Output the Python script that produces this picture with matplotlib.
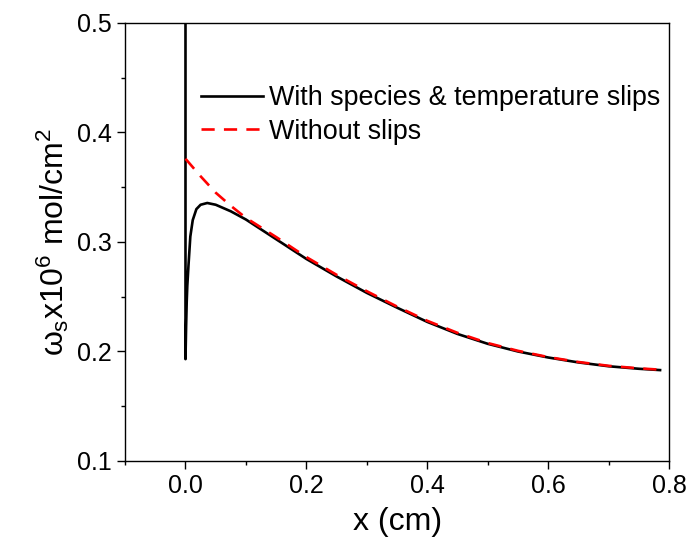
import matplotlib
matplotlib.use('Agg')
import matplotlib.pyplot as plt
from matplotlib.ticker import MultipleLocator

# data
x_slip = [0.0, 0.0, 0.001, 0.002, 0.003, 0.005, 0.008, 0.012, 0.018, 0.025, 0.036,
          0.05, 0.075, 0.1, 0.15, 0.2, 0.25, 0.3, 0.35, 0.4, 0.45, 0.5,
          0.55, 0.6, 0.65, 0.7, 0.75, 0.785]
y_slip = [0.56, 0.193, 0.222, 0.245, 0.260, 0.279, 0.305, 0.320, 0.330, 0.334, 0.3356,
          0.334, 0.328, 0.3205, 0.3025, 0.2845, 0.2685, 0.2535, 0.240, 0.227, 0.216, 0.207,
          0.200, 0.1945, 0.190, 0.1865, 0.1842, 0.183]

x_noslip = [0.0, 0.025, 0.05, 0.075, 0.1, 0.15, 0.2, 0.25, 0.3, 0.35, 0.4, 0.45, 0.5,
            0.55, 0.6, 0.65, 0.7, 0.75, 0.785]
y_noslip = [0.376, 0.360, 0.345, 0.333, 0.322, 0.3045, 0.2862, 0.2700, 0.2550, 0.2410, 0.2280,
            0.2170, 0.2077, 0.2006, 0.1949, 0.1904, 0.1869, 0.1846, 0.1834]

plt.rcParams['font.family'] = ['Liberation Sans', 'DejaVu Sans']
plt.rcParams['mathtext.fontset'] = 'custom'
plt.rcParams['mathtext.rm'] = 'Liberation Sans'
plt.rcParams['mathtext.it'] = 'Liberation Sans'

fig = plt.figure(figsize=(6.87, 5.55), dpi=100)
ax = fig.add_axes([0.182, 0.1694, 0.792, 0.7892])

ax.plot(x_slip, y_slip, color='black', linewidth=1.9,
        label='With species & temperature slips')
ax.plot(x_noslip, y_noslip, color='red', linewidth=1.9, linestyle=(0, (5, 3.5)),
        label='Without slips')

ax.set_xlim(-0.1, 0.8)
ax.set_ylim(0.1, 0.5)
ax.xaxis.set_major_locator(MultipleLocator(0.2))
ax.xaxis.set_minor_locator(MultipleLocator(0.1))
ax.yaxis.set_major_locator(MultipleLocator(0.1))
ax.yaxis.set_minor_locator(MultipleLocator(0.05))
ax.tick_params(which='both', direction='out', top=False, right=False,
               width=1.0, labelsize=18)
ax.tick_params(which='major', length=6)
ax.tick_params(which='minor', length=3)
for s in ax.spines.values():
    s.set_linewidth(1.0)

ax.set_xlabel('x (cm)', fontsize=23, labelpad=6)
ax.set_ylabel(r'$\omega_s$x10$^6$ mol/cm$^2$', fontsize=23, labelpad=4)

ax.legend(loc='upper left', bbox_to_anchor=(0.139, 0.858), frameon=False,
          fontsize=19.4, handlelength=2.3, handletextpad=0.25,
          labelspacing=0.28, borderpad=0, borderaxespad=0)

fig.savefig('out.png', dpi=100)
